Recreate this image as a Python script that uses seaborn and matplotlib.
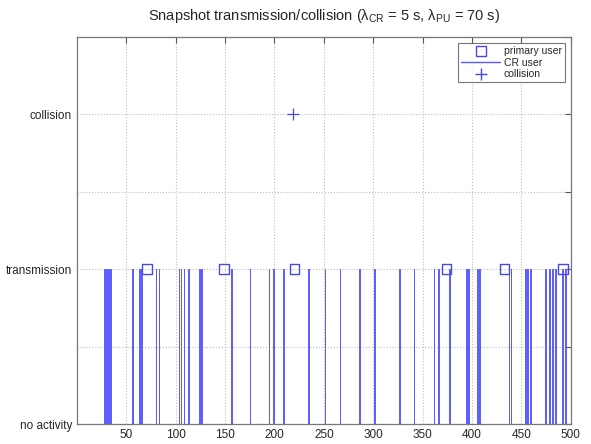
import numpy as np
import pandas as pd
import matplotlib
matplotlib.use('Agg')
import matplotlib.pyplot as plt
from matplotlib.lines import Line2D
import seaborn as sns

# times (s) at which the CR user transmits
cr_times = [28, 30, 32, 34, 56, 63, 65, 80, 83, 103, 105, 108, 113, 124, 126,
            156, 175, 194, 199, 209, 234, 251, 266, 286, 301, 326, 341, 361,
            366, 377, 394, 396, 405, 407, 437, 439, 454, 456, 459, 474, 478,
            481, 484, 491, 494]
# primary user arrivals
pu_times = [71, 149, 220, 374, 433, 492]
# collisions
col_times = [219]

y_labels = ['no activity', '', 'transmission', '', 'collision', '']

sns.set_style('white')
plt.rcParams['font.family'] = ['Liberation Sans', 'DejaVu Sans']
plt.rcParams['mathtext.fontset'] = 'custom'
plt.rcParams['mathtext.rm'] = 'Liberation Sans'
plt.rcParams['mathtext.it'] = 'Liberation Sans:italic'

blue = '#4848e8'

# build the 0/1 signal of the CR user (short pulse for each transmission)
xs, ys = [0], [0]
for t in cr_times:
    xs += [t, t, t + 0.6, t + 0.6]
    ys += [0, 1, 1, 0]
xs.append(500)
ys.append(0)
cr = pd.DataFrame({'t': xs, 'state': ys})
pu = pd.DataFrame({'t': pu_times, 'state': [1] * len(pu_times)})
col = pd.DataFrame({'t': col_times, 'state': [2] * len(col_times)})

fig = plt.figure(figsize=(5.91, 4.44), dpi=100)
ax = fig.add_axes([0.130, 0.045, 0.836, 0.872])

sns.lineplot(data=cr, x='t', y='state', estimator=None, sort=False, color='#5a5aff',
             linewidth=0.7, ax=ax, legend=False)
sns.scatterplot(data=pu, x='t', y='state', marker='s', s=45, facecolor='none',
                edgecolor=blue, linewidth=1.0, ax=ax, legend=False, zorder=3)
sns.scatterplot(data=col, x='t', y='state', marker='+', s=70, color=blue,
                linewidth=0.9, ax=ax, legend=False, zorder=3)

ax.set_xlim(0, 500)
ax.set_ylim(0, 2.5)
ax.set_xticks(np.arange(50, 501, 50))
ax.set_yticks(np.arange(0, 2.51, 0.5))
ax.set_yticklabels(y_labels)
ax.set_xlabel('')
ax.set_ylabel('')
ax.tick_params(direction='in', length=4, labelsize=8.5, top=True, right=True,
               color='#555555')
ax.grid(True, linestyle=':', color='#bbbbbb', linewidth=0.8)
for s in ax.spines.values():
    s.set_color('#777777')
    s.set_linewidth(0.9)

ax.set_title(r'Snapshot transmission/collision ($\mathrm{\lambda_{CR}}$ = 5 s, $\mathrm{\lambda_{PU}}$ = 70 s)',
             fontsize=10.5, pad=12)

handles = [
    Line2D([], [], marker='s', linestyle='none', markerfacecolor='none',
           markeredgecolor=blue, markersize=7),
    Line2D([], [], color='#5a5aff', linewidth=1.0),
    Line2D([], [], marker='+', linestyle='none', color=blue, markersize=8),
]
leg = ax.legend(handles, ['primary user', 'CR user', 'collision'],
                loc='upper right', fontsize=7.5, frameon=True, fancybox=False,
                borderaxespad=0.6, handlelength=3.8, handletextpad=0.3,
                labelspacing=0.15, borderpad=0.3)
leg.get_frame().set_edgecolor('#555555')
leg.get_frame().set_linewidth(0.8)

fig.savefig('out.png', dpi=100)
